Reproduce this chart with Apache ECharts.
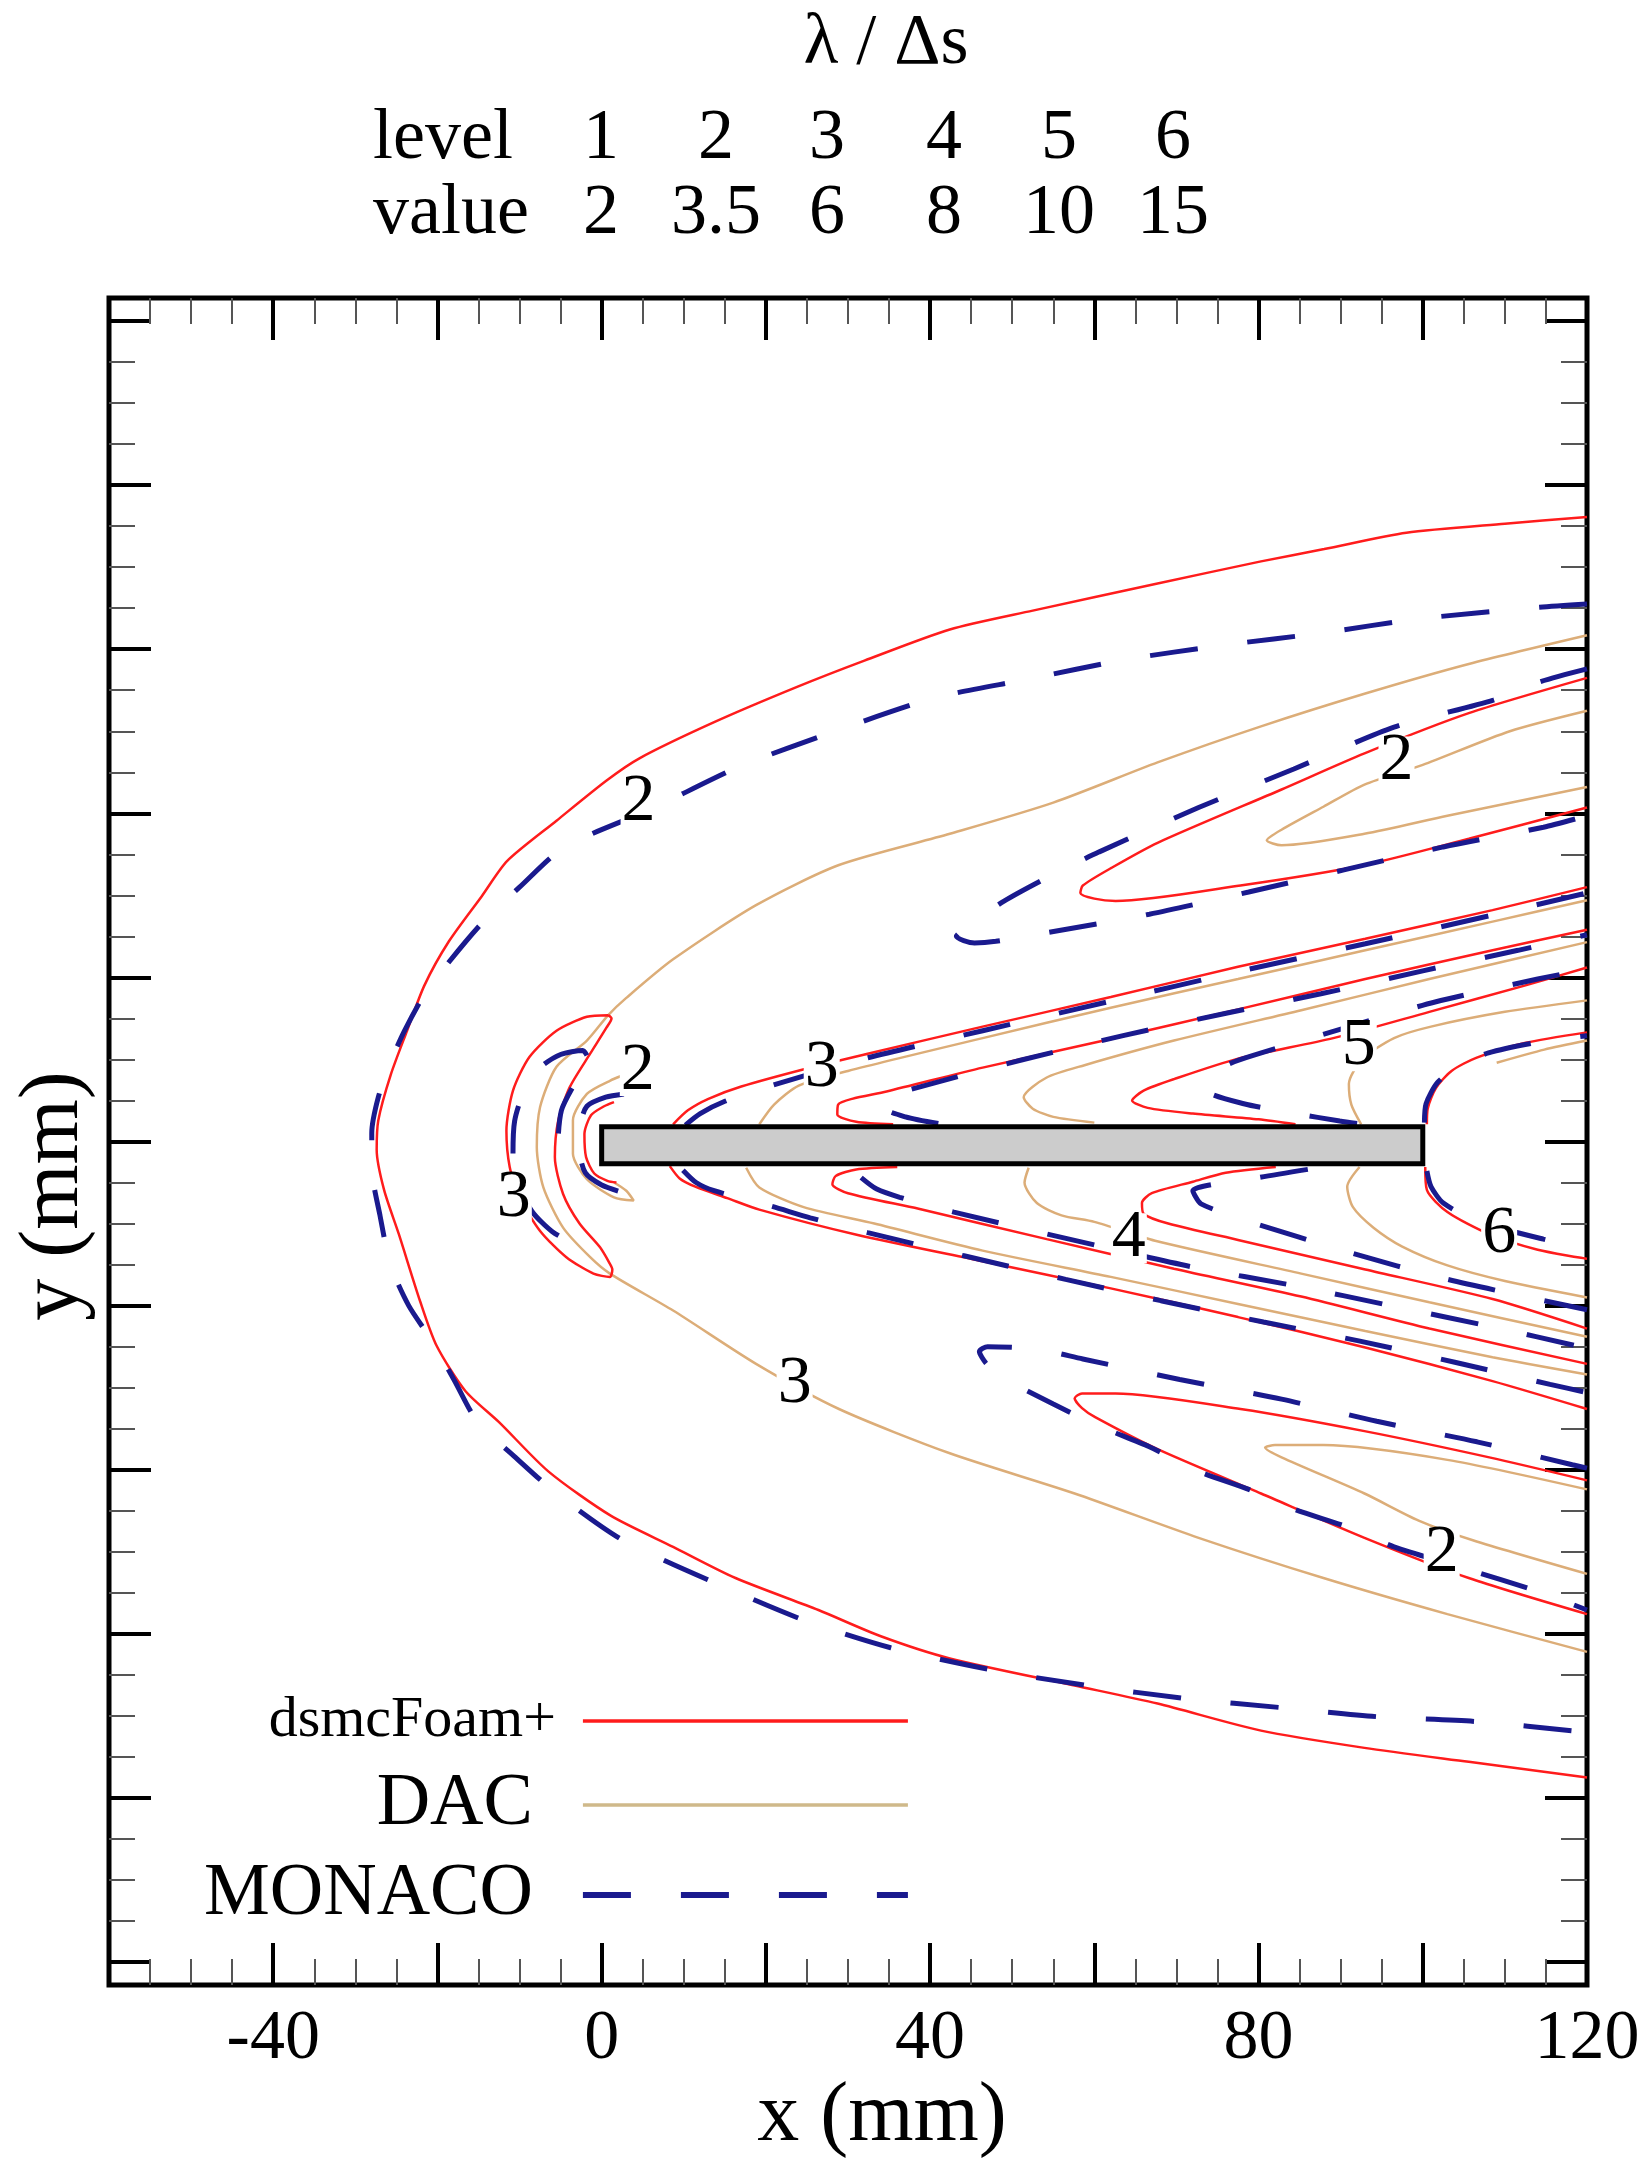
<!DOCTYPE html>
<html><head><meta charset="utf-8">
<script src="https://cdn.jsdelivr.net/npm/echarts@6/dist/echarts.min.js"></script>
<style>html,body{margin:0;padding:0;background:#fff}#c{width:1650px;height:2164px}</style>
</head><body><div id="c"></div>
<script>
// ---------- data (mm) ----------
const xTickLabels = [-40, 0, 40, 80, 120];
const levelIds = [1, 2, 3, 4, 5, 6];
const levelValues = [2, 3.5, 6, 8, 10, 15];
const plate = [[0, 100, -2.7, 1.8]];

// dsmcFoam+ (red)
const foamOuter = [[120,76.1],[110,75.3],[98,74.2],[88,72.2],[80.3,70.7],[67.7,68.0],[52.5,64.7],[42.4,62.4],[32,58.6],[23.8,55.4],[13.7,51.1],[4.6,46.7],[0.6,44.0],[-5.5,39.1],[-11.5,34.2],[-14.6,29.9],[-18.6,24.4],[-21.6,19.0],[-23.7,13.5],[-25.7,8.1],[-27.2,2.6],[-27.4,-1],[-26.5,-5.9],[-24.7,-11.3],[-22.1,-19.5],[-20.1,-24.9],[-16.6,-30.4],[-12.5,-34.2],[-6.5,-40.2],[1.1,-45.6],[8.7,-49.4],[16.3,-53.2],[26.4,-57.1],[34.0,-60.3],[42.4,-63.0],[57.6,-66.3],[67.7,-68.5],[80.3,-71.8],[92.9,-73.9],[105.6,-75.6],[120,-77.5]];
const foamTongueUp = [[120,56.5],[105.6,52.2],[92.9,47.3],[82.8,42.9],[67.7,36.4],[62,33.3],[58.6,31.2],[58.3,30.3],[60,29.6],[62.6,29.3],[77.8,31.2],[92.9,33.7],[105.6,36.9],[120,40.7]];
const foamTongueLow = [[120,-41.3],[108.1,-38.5],[92.9,-35.3],[77.8,-32.6],[62.6,-30.7],[58.5,-30.7],[57.6,-31.3],[58.5,-32.5],[60.1,-33.6],[67.7,-37.5],[80.3,-42.9],[92.9,-48.3],[105.6,-53.2],[120,-57.6]];
const foamNoseC = [[0.8,15.4],[-1.8,15.2],[-5.5,13.5],[-8.8,10.3],[-10.8,6.2],[-11.6,1.3],[-11.2,-3.1],[-10.0,-6.8],[-7.5,-10.9],[-4.3,-14.1],[-1.0,-16.1],[1.0,-16.5],[1.3,-15.6],[1.0,-14.9],[-0.2,-12.9],[-2.7,-10.0],[-4.7,-6.4],[-5.7,-1.9],[-5.3,2.5],[-3.9,6.6],[-1.4,10.7],[0.6,13.9],[1.2,15.0],[0.8,15.4]];
const foamNoseInner = [[1.5,4.8],[0.3,4.3],[-1.3,3.2],[-2.1,0.9],[-1.9,-1.9],[-0.9,-3.9],[0.7,-4.8],[1.8,-5.0]];
const foam3a = [[8.7,2.1],[10.5,3.8],[13,5.2],[17,6.7],[25,8.9],[32.4,10.7],[46.4,14.0],[62,17.6],[77.5,21.3],[93,24.7],[108.5,28.2],[120,31.0]];
const foam4a = [[35.5,2.1],[31,2.4],[28.7,3.3],[28.8,4.5],[30.5,5.2],[34.7,6.1],[46.4,9.0],[62,12.5],[77.5,16.1],[93,19.8],[108.5,23.3],[120,25.8]];
const foam5a = [[84.5,2.1],[80,2.7],[72,3.4],[66.5,4.1],[64.6,5.0],[66,6.2],[69.7,7.6],[77.5,10.1],[89.1,12.6],[100.8,15.8],[112.4,19.0],[120,21.2]];
const foam6a = [[100.5,2.1],[100.6,4.0],[101.6,6.5],[103.5,8.6],[106.5,10.2],[112.4,12.0],[120,13.3]];
const foam3b = [[8.3,-3.0],[9.5,-4.5],[11.4,-5.5],[15.3,-6.9],[19.2,-8.3],[30.8,-11.3],[46.4,-14.6],[62,-17.9],[77.5,-21.4],[93,-25.1],[108.5,-29.2],[120,-32.6]];
const foam4b = [[36,-3.1],[31,-3.4],[28.5,-4.2],[28.1,-5.2],[30,-6.3],[38.6,-8.2],[54.2,-11.9],[69.7,-15.5],[85.2,-18.9],[100.8,-22.8],[120,-27.1]];
const foam5b = [[82.1,-3.1],[76,-3.8],[72,-4.9],[67,-6.3],[65.8,-7.5],[66,-8.8],[69,-10.0],[77.5,-12.0],[93,-15.6],[108.5,-19.2],[120,-22.8]];
const foam6b = [[100.3,-3.1],[100.5,-5.9],[103,-8.6],[108.1,-11.3],[114,-13.2],[120,-14.3]];

// DAC (tan)
const dacOuter = [[120,61.7],[105.6,58.2],[93,54.6],[80.3,50.6],[67.7,46.2],[55,41.3],[42.4,37.5],[28.9,33.7],[18.8,28.8],[8.7,22.2],[3,17.5],[0.8,15.4],[-1.8,12.3],[-5.5,9.1],[-7.5,4.2],[-7.9,-0.7],[-7.1,-5.6],[-4.7,-10.5],[-1.4,-14.1],[1.0,-16.1],[8.7,-20.6],[18.8,-27.1],[28.9,-32.6],[42.4,-38.0],[57.6,-42.9],[72.7,-48.3],[87.9,-53.2],[103,-57.6],[120,-62.2]];
const dacTongueUp = [[120,52.5],[110.6,50.0],[100,45.9],[92.9,43.5],[87.9,40.8],[82.8,38.0],[81,36.7],[82.8,36.1],[92.9,37.5],[103,39.7],[120,43.2]];
const dacTongueLow = [[120,-42.4],[103,-38.8],[87.9,-37.0],[82,-37.0],[80.8,-37.3],[82.8,-38.5],[92.9,-42.9],[99.5,-46.2],[106.1,-48.6],[120,-52.7]];
const dacNoseInner = [[4.5,8.8],[1.0,7.4],[-1.8,5.8],[-3.5,2.6],[-3.5,-1.5],[-1.8,-4.6],[1.5,-6.8],[3.9,-7.2],[3.0,-6.0],[1.5,-5.0]];
const dac3a = [[19.2,2.1],[21,4.5],[24,6.8],[30,8.6],[46.4,12.6],[62,16.3],[77.5,19.8],[93,23.3],[108.5,26.8],[120,29.4]];
const dac4a = [[60,2.3],[55,3.0],[52.5,4.0],[51.4,5.4],[54.2,7.8],[58.8,9.3],[69.7,12.3],[85.2,16.0],[100.8,19.8],[120,24.3]];
const dac5a = [[92.5,2.1],[91.3,4.5],[91,7.0],[92.6,10],[96.5,12.6],[101,14.0],[110,15.8],[120,17.2]];
const dac6a = [[109,9.6],[114.8,11.2],[120,12.3]];
const dac3b = [[17.6,-3.2],[19.2,-5.6],[24.6,-8.0],[33.2,-10.0],[46.4,-13.3],[62,-16.5],[77.5,-19.8],[93,-23.1],[108.5,-26.3],[120,-28.4]];
const dac4b = [[52,-3.2],[51.5,-5],[53,-7.5],[56,-9.0],[60,-9.8],[67.4,-12.1],[85.2,-16.1],[100.8,-19.6],[120,-23.8]];
const dac5b = [[92.3,-3.1],[90.8,-5.5],[91.5,-8],[94,-10.5],[97.5,-12.8],[103,-15.1],[110,-17],[120,-19]];

// MONACO (navy, dashed)
const monacoOuter = [[120,65.5],[114.2,65.1],[99.5,63.7],[87.9,62.0],[75.8,60.5],[63.6,58.7],[51.7,56.3],[42.4,54.5],[38.0,53.3],[28.4,50.0],[16.8,45.7],[6,40.5],[-4.5,35.9],[-10,31],[-14.6,26.6],[-18.5,22],[-21.6,17.9],[-24,13.5],[-25.7,9.7],[-27.2,5.4],[-28,1],[-28,-3.2],[-27,-9],[-25.7,-15.1],[-23.5,-20],[-20.6,-24.4],[-18,-29],[-15.1,-34.2],[-10.5,-38.5],[-5.5,-42.9],[2.6,-48.6],[14.5,-54.1],[24.8,-58.4],[35.2,-61.7],[47.5,-64.4],[59.1,-66.3],[71.2,-67.9],[82.8,-69.0],[94.4,-70.1],[106.6,-70.7],[120,-72.0]];
const monacoTongueUp = [[120,57.6],[114.2,56.0],[108.6,53.8],[96.5,50.5],[84.3,45.4],[72.7,40.7],[60.6,35.3],[54.5,32.3],[49,29.3],[45,26.5],[43.2,25.0],[45.4,24.2],[48,24.4],[54.5,25.5],[66.7,27.7],[78.8,30.4],[90.4,33.1],[102.5,35.9],[114.7,38.3],[120,39.7]];
const monacoTongueLow = [[120,-39.8],[118.2,-39.4],[106.6,-36.6],[94.4,-34.1],[82.8,-31.4],[70.4,-29.0],[58.6,-26.5],[53,-25.3],[47,-25.0],[46,-25.6],[46.8,-27],[48.7,-28.7],[55,-32],[60.6,-34.7],[66.7,-37.2],[72.7,-40.2],[78.8,-42.4],[84.3,-44.8],[90.9,-47.0],[96.5,-49.4],[105,-52],[114.2,-54.9],[120,-57.1]];
const monacoNoseC = [[-1.8,10.5],[-2.3,11.1],[-5,10.6],[-7.5,9],[-9.5,6],[-10.6,2.5],[-10.8,-1.5],[-10.2,-5],[-8.5,-8.5],[-6,-11],[-3,-12.6],[-1.6,-12.9],[-2,-11.5]];
const monacoNoseMid = [[-3.6,6.5],[-4.9,3.8],[-5.3,0],[-5.0,-3]];
const monacoNoseInner = [[2.7,5.8],[0.5,5.4],[-1.8,4.3],[-2.6,2],[-2.7,-1],[-2,-3.8],[0,-5.3],[2.5,-6.2]];
const monaco3a = [[10.2,2.0],[12,3.4],[15,4.9],[20,6.6],[32,10.1],[46.4,13.5],[62,17.1],[77.5,20.7],[93,24.1],[108.5,27.6],[120,30.3]];
const monaco4a = [[41,2.2],[37,3.0],[34,4.3],[34.7,5.4],[40,7.0],[51,9.9],[63.5,12.9],[75.9,15.6],[87.6,18.0],[100,20.8],[111.6,23.3],[120,25.2]];
const monaco5a = [[92,2.2],[89.9,2.5],[84.5,3.4],[78.2,4.6],[73.6,6.2],[73.5,7.5],[75.5,9.0],[77.5,9.9],[89,13.4],[101.5,17.0],[114,19.8],[120,21.0]];
const monaco6a = [[100.2,2.3],[100.4,4.6],[101.8,7.2],[104.5,9.3],[108,10.8],[114,12.1],[120,12.9]];
const monaco3b = [[9.9,-3.5],[11.5,-5.0],[13.7,-6.0],[20.7,-7.9],[25.4,-9.3],[32.4,-11.1],[44,-13.9],[56.5,-16.8],[68.1,-19.4],[80.6,-22.0],[92.2,-24.3],[103.9,-26.9],[115.5,-29.6],[120,-30.6]];
const monaco4b = [[31.6,-4.4],[33.5,-5.8],[36.3,-6.8],[42.9,-8.6],[60.4,-12.7],[72,-15.3],[84.5,-17.6],[96.1,-20],[108.5,-22.6],[120,-25.2]];
const monaco5b = [[86,-3.4],[80,-4.4],[72,-6.0],[73,-7.6],[79,-9.8],[90.7,-13.4],[103,-16.8],[120,-20.5]];
const monaco6b = [[100.5,-3.6],[101,-5.5],[102.5,-7.5],[106.6,-9.7],[114.7,-11.9],[120,-13.0]];

// contour level labels [x, y, level]
const contourLabels = [[4.5,41.4,'2'],[96.8,46.3,'2'],[4.4,8.6,'2'],[26.8,9.0,'3'],[92.2,11.6,'5'],[-10.7,-6.9,'3'],[64.2,-11.8,'4'],[109.3,-11.3,'6'],[23.5,-29.6,'3'],[102.3,-50.2,'2']];

// ---------- chart ----------
const SERIF = '"Liberation Serif","Times New Roman",serif';
const STY = {
  'dsmcFoam+': {color:'#ff1c1c', width:2.5, type:'solid'},
  'DAC': {color:'#dcad78', width:2.5, type:'solid'},
  'MONACO': {color:'#1a1a8e', width:5, type:[48,50], cap:'butt'}
};
const dacLines = [dacOuter, dacTongueUp, dacTongueLow, dacNoseInner, dac3a, dac4a, dac5a, dac6a, dac3b, dac4b, dac5b];
const foamLines = [foamOuter, foamTongueUp, foamTongueLow, foamNoseC, foamNoseInner, foam3a, foam4a, foam5a, foam6a, foam3b, foam4b, foam5b, foam6b];
const monacoLines = [monacoOuter, monacoTongueUp, monacoTongueLow, monacoNoseC, monacoNoseMid, monacoNoseInner, monaco3a, monaco4a, monaco5a, monaco6a, monaco3b, monaco4b, monaco5b, monaco6b];

function lineSeries(name, data, z) {
  return {type:'line', name, data, xAxisIndex:0, yAxisIndex:0, symbol:'none', showSymbol:false, smooth:0.25,
    lineStyle: Object.assign({}, STY[name]), itemStyle:{color:STY[name].color}, silent:true, z};
}

const majorTick = {inside:true, length:42, lineStyle:{color:'#000', width:4}};
const minorTick = {show:true, splitNumber:4, length:26, lineStyle:{color:'#555', width:2}};
const noLine = {show:false, onZero:false};

const headerColX = [601, 716, 827, 944, 1059, 1173];
const headerFont = '72px ' + SERIF;
const graphics = [
  {type:'text', x:886, y:44, style:{text:'λ / Δs', font:headerFont, fill:'#000', align:'center', verticalAlign:'middle'}},
  {type:'text', x:373, y:139, style:{text:'level', font:headerFont, fill:'#000', align:'left', verticalAlign:'middle'}},
  {type:'text', x:373, y:214, style:{text:'value', font:headerFont, fill:'#000', align:'left', verticalAlign:'middle'}},
  {type:'text', x:882, y:2118, style:{text:'x (mm)', font:'84px ' + SERIF, fill:'#000', align:'center', verticalAlign:'middle'}},
  {type:'text', x:55, y:1196, rotation:Math.PI/2, style:{text:'y (mm)', font:'84px ' + SERIF, fill:'#000', align:'center', verticalAlign:'middle'}}
];
levelIds.forEach((v,i)=>graphics.push({type:'text', x:headerColX[i], y:139, style:{text:String(v), font:headerFont, fill:'#000', align:'center', verticalAlign:'middle'}}));
levelValues.forEach((v,i)=>graphics.push({type:'text', x:headerColX[i], y:214, style:{text:String(v), font:headerFont, fill:'#000', align:'center', verticalAlign:'middle'}}));

const option = {
  animation:false,
  backgroundColor:'#fff',
  grid:[
    {left:109, top:298, width:1478, height:1687, show:true, borderColor:'#000', borderWidth:5, backgroundColor:'transparent'},
    {left:109, top:321, width:1478, height:1641}
  ],
  xAxis:[
    {gridIndex:0, type:'value', min:-60, max:120, interval:20, position:'bottom',
     axisLine:noLine, axisTick:majorTick, minorTick:minorTick, splitLine:{show:false}, minorSplitLine:{show:false},
     axisLabel:{margin:20, fontSize:70, fontFamily:SERIF, color:'#000', showMinLabel:true, showMaxLabel:true,
       formatter:v=>xTickLabels.includes(v)?String(v):''}},
    {gridIndex:0, type:'value', min:-60, max:120, interval:20, position:'top',
     axisLine:noLine, axisTick:majorTick, minorTick:minorTick, splitLine:{show:false}, axisLabel:{show:false}},
    {gridIndex:1, type:'value', min:-60, max:120, show:false, axisLine:noLine}
  ],
  yAxis:[
    {gridIndex:0, type:'value', min:-102.8, max:102.8, show:false, axisLine:noLine},
    {gridIndex:1, type:'value', min:-100, max:100, interval:20, position:'left',
     axisLine:noLine, axisTick:majorTick, minorTick:minorTick, splitLine:{show:false}, axisLabel:{show:false}},
    {gridIndex:1, type:'value', min:-100, max:100, interval:20, position:'right',
     axisLine:noLine, axisTick:majorTick, minorTick:minorTick, splitLine:{show:false}, axisLabel:{show:false}}
  ],
  legend:{
    orient:'vertical', left:199, top:1685, align:'right', itemWidth:325, itemHeight:20, itemGap:16,
    selectedMode:false, itemStyle:{opacity:0},
    textStyle:{fontFamily:SERIF, fontSize:74, color:'#000', lineHeight:62, width:320, align:'right', padding:[0,45,0,0]},
    data:[
      {name:'dsmcFoam+', itemStyle:{opacity:0}, lineStyle:{color:'#ff1c1c', width:3.5, type:'solid'},
       textStyle:{fontSize:58, width:343, padding:[0,22,0,0]}},
      {name:'DAC', itemStyle:{opacity:0}, lineStyle:{color:'#cfb98a', width:3.5, type:'solid'}},
      {name:'MONACO', itemStyle:{opacity:0}, lineStyle:{color:'#1a1a8e', width:6, type:[48,50], cap:'butt'}}
    ]
  },
  graphic:{elements:graphics},
  series:[
    ...dacLines.map(d=>lineSeries('DAC', d, 2)),
    ...foamLines.map(d=>lineSeries('dsmcFoam+', d, 3)),
    ...monacoLines.map(d=>lineSeries('MONACO', d, 4)),
    {type:'custom', xAxisIndex:0, yAxisIndex:0, data:plate, silent:true, z:6,
     renderItem:(params, api)=>{
       const p0 = api.coord([api.value(0), api.value(3)]);
       const p1 = api.coord([api.value(1), api.value(2)]);
       return {type:'rect', shape:{x:p0[0], y:p0[1], width:p1[0]-p0[0], height:p1[1]-p0[1]},
         style:{fill:'#cccccc', stroke:'#000', lineWidth:5}};
     }},
    {type:'scatter', xAxisIndex:0, yAxisIndex:0, data:contourLabels, symbolSize:1, silent:true, z:8,
     itemStyle:{color:'#ffffff', opacity:1},
     label:{show:true, position:'inside', formatter:p=>p.data[2], fontSize:68, fontFamily:SERIF, color:'#000000',
       opacity:1, textBorderWidth:0, textBorderColor:'transparent', textShadowBlur:0,
       backgroundColor:'#fff', lineHeight:50, padding:[0,1]}}
  ]
};
const chart = echarts.init(document.getElementById('c'), null, {renderer:'canvas'});
chart.setOption(option);
</script></body></html>
